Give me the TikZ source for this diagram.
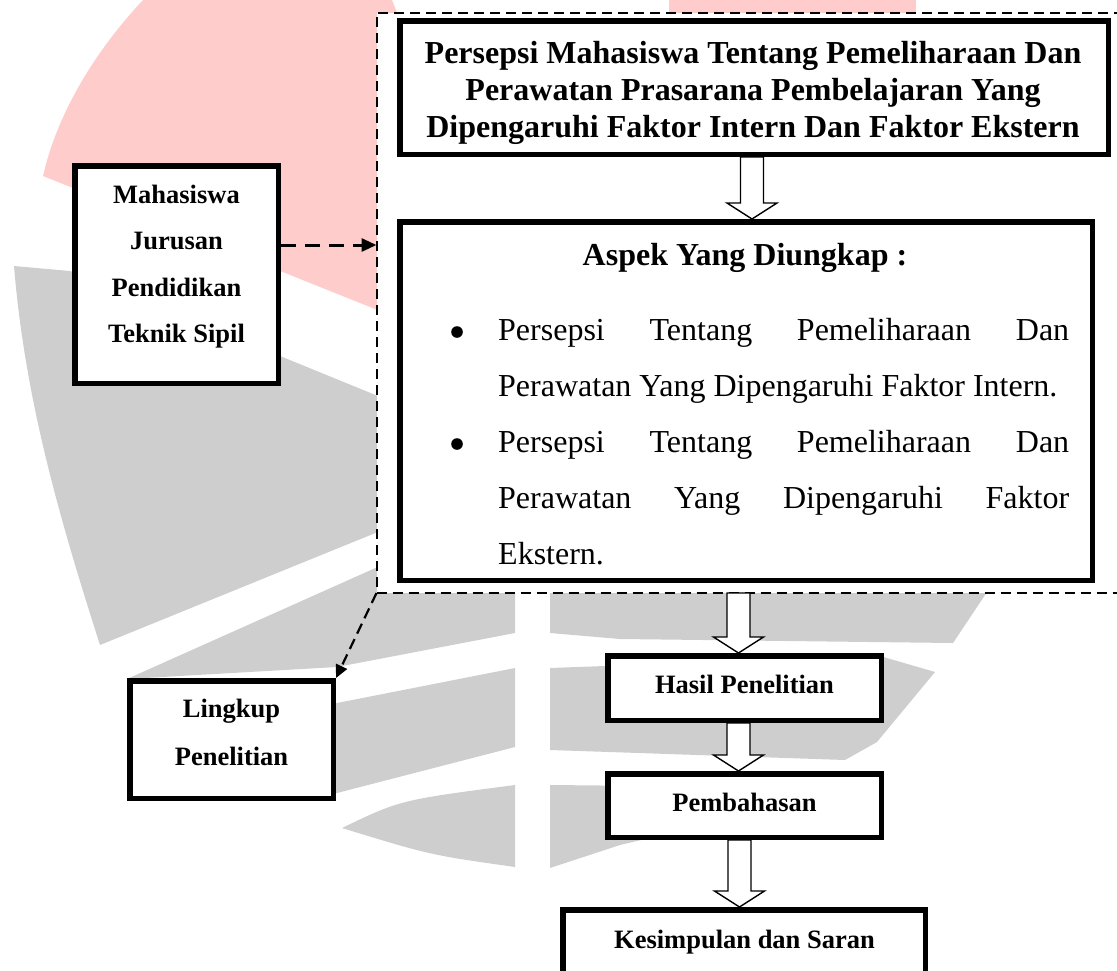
\documentclass[tikz,border=0pt]{standalone}
\usepackage{fontspec}
\setmainfont{Liberation Serif}
\usetikzlibrary{calc,arrows.meta}
\definecolor{wmpink}{RGB}{255,204,204}
\definecolor{wmgray}{RGB}{206,206,206}
\newcommand\BlockArrow[2]{\draw[blockarrow] let \p1=(#1), \p2=(#2) in
  (\x1-11.5pt,\y1) -- (\x1-11.5pt,\y2+16pt) -- (\x1-25pt,\y2+16pt) -- (\x1,\y2)
  -- (\x1+25pt,\y2+16pt) -- (\x1+11.5pt,\y2+16pt) -- (\x1+11.5pt,\y1) -- cycle;}
\tikzset{
  box/.style={rectangle, draw=black, line width=5.5pt, fill=white, inner sep=0pt},
  framebox/.style={rectangle, draw=black, dash pattern=on 10pt off 6pt, line width=2pt, fill=white, inner sep=0pt, outer sep=0pt},
  blockarrow/.style={draw=black, line width=1.4pt, fill=white, line join=miter},
  dasharrow/.style={draw=black, line width=3pt, dash pattern=on 15pt off 9pt, -{Triangle[length=15pt,width=13pt]}},
  diagarrow/.style={draw=black, line width=2.2pt, dash pattern=on 11pt off 6pt, -{Triangle[length=13pt,width=12pt]}},
  hb/.style={font=\fontsize{32}{37}\selectfont\bfseries, inner sep=0pt, anchor=base},
  sb/.style={font=\fontsize{26.5}{30}\selectfont\bfseries, inner sep=0pt, anchor=base},
  body/.style={font=\fontsize{32}{37}\selectfont, inner sep=0pt, anchor=base west},
}
\begin{document}
\begin{tikzpicture}[x=1pt, y=-1pt]
\useasboundingbox (0,0) rectangle (1117,970);
\clip (0,0) rectangle (1117,970);
% watermark
\fill[wmpink] (143,0) -- (392,0) -- (400,20) -- (400,319) -- (43,176) .. controls (58,110) and (98,48) .. (143,0) -- cycle;
\fill[wmpink] (669,0) -- (916,0) -- (916,20) -- (669,20) -- cycle;
\fill[wmgray] (14,266) -- (70,271) -- (280,356) -- (400,405) -- (400,523) -- (100,645) .. controls (60,520) and (25,400) .. (14,266) -- cycle;
\fill[wmgray] (127,679) -- (400,557) -- (515,557) -- (515,633) -- (337,667) -- cycle;
\fill[wmgray] (550,580) -- (995,580) -- (953,643) -- (620,639) -- (550,633) -- cycle;
\fill[wmgray] (250,735) -- (337,703) -- (515,668) -- (515,747) -- (337,793) -- (250,800) -- cycle;
\fill[wmgray] (550,668) -- (880,656) -- (935,672) -- (877,742) -- (845,760) -- (550,750) -- cycle;
\fill[wmgray] (342,828) .. controls (400,800) .. (515,785) -- (515,867) .. controls (430,855) .. (342,828) -- cycle;
\fill[wmgray] (550,785) -- (860,788) -- (620,845) -- (550,868) -- cycle;
% dashed frame
\node[framebox, minimum width=763.5, minimum height=580.5] (frame) at (758.25,302.75) {};
% boxes
\node[box, minimum width=708.5, minimum height=133.5] (topbox) at (754,87.5) {};
\node[box, minimum width=692.5, minimum height=358.5] (aspek) at (746,401) {};
\node[box, minimum width=203.5, minimum height=217.5] (maha) at (176.5,274.5) {};
\node[box, minimum width=203.5, minimum height=117.5] (lingkup) at (231.5,739.5) {};
\node[box, minimum width=273.5, minimum height=64.5] (hasil) at (744.5,688) {};
\node[box, minimum width=273.5, minimum height=63.5] (pemb) at (744.5,805.5) {};
\node[box, minimum width=362.5, minimum height=94.5] (kesim) at (744,957) {};
% dashed connectors
\coordinate (ylvl) at (0,245);
\draw[dasharrow] (maha.east |- ylvl) -- (frame.west |- ylvl);
\draw[diagarrow] (frame.south west) -- (lingkup.north east);
% block arrows
\coordinate (a1s) at ($(topbox.south)+(-2,0)$);
\coordinate (a1t) at (a1s |- aspek.north);
\coordinate (a2s) at ($(hasil.north |- frame.south)+(-6,0)$);
\coordinate (a2t) at (a2s |- hasil.north);
\coordinate (a3s) at ($(hasil.south)+(-6,0)$);
\coordinate (a3t) at (a3s |- pemb.north);
\coordinate (a4s) at ($(pemb.south)+(-5,0)$);
\coordinate (a4t) at (a4s |- kesim.north);
\BlockArrow{a1s}{a1t}
\BlockArrow{a2s}{a2t}
\BlockArrow{a3s}{a3t}
\BlockArrow{a4s}{a4t}
% texts
\node[hb] (t1) at (753,63) {Persepsi Mahasiswa Tentang Pemeliharaan Dan};
\node[hb] (t2) at (753,100) {Perawatan Prasarana Pembelajaran Yang};
\node[hb] (t3) at (753,137) {Dipengaruhi Faktor Intern Dan Faktor Ekstern};
\node[hb] (aspt) at (745,265) {Aspek Yang Diungkap :};
\fill (457,332) circle (5.8);
\fill (457,444) circle (5.8);
\node[body] (b1) at (498,340) {\hbox to 571pt{Persepsi\hfill Tentang\hfill Pemeliharaan\hfill Dan}};
\node[body] (b2) at (498,396) {Perawatan Yang Dipengaruhi Faktor Intern.};
\node[body] (b3) at (498,452) {\hbox to 571pt{Persepsi\hfill Tentang\hfill Pemeliharaan\hfill Dan}};
\node[body] (b4) at (498,508) {\hbox to 571pt{Perawatan\hfill Yang\hfill Dipengaruhi\hfill Faktor}};
\node[body] (b5) at (498,564) {Ekstern.};
\node[sb] (m1) at (176.5,203) {Mahasiswa};
\node[sb] (m2) at (176.5,249.5) {Jurusan};
\node[sb] (m3) at (176.5,296) {Pendidikan};
\node[sb] (m4) at (176.5,342) {Teknik Sipil};
\node[sb] (l1) at (231.5,717) {Lingkup};
\node[sb] (l2) at (231.5,765) {Penelitian};
\node[sb] (h1) at (744.5,693) {Hasil Penelitian};
\node[sb] (p1) at (744.5,811) {Pembahasan};
\node[sb] (k1) at (744.5,948) {Kesimpulan dan Saran};
\end{tikzpicture}
\end{document}
